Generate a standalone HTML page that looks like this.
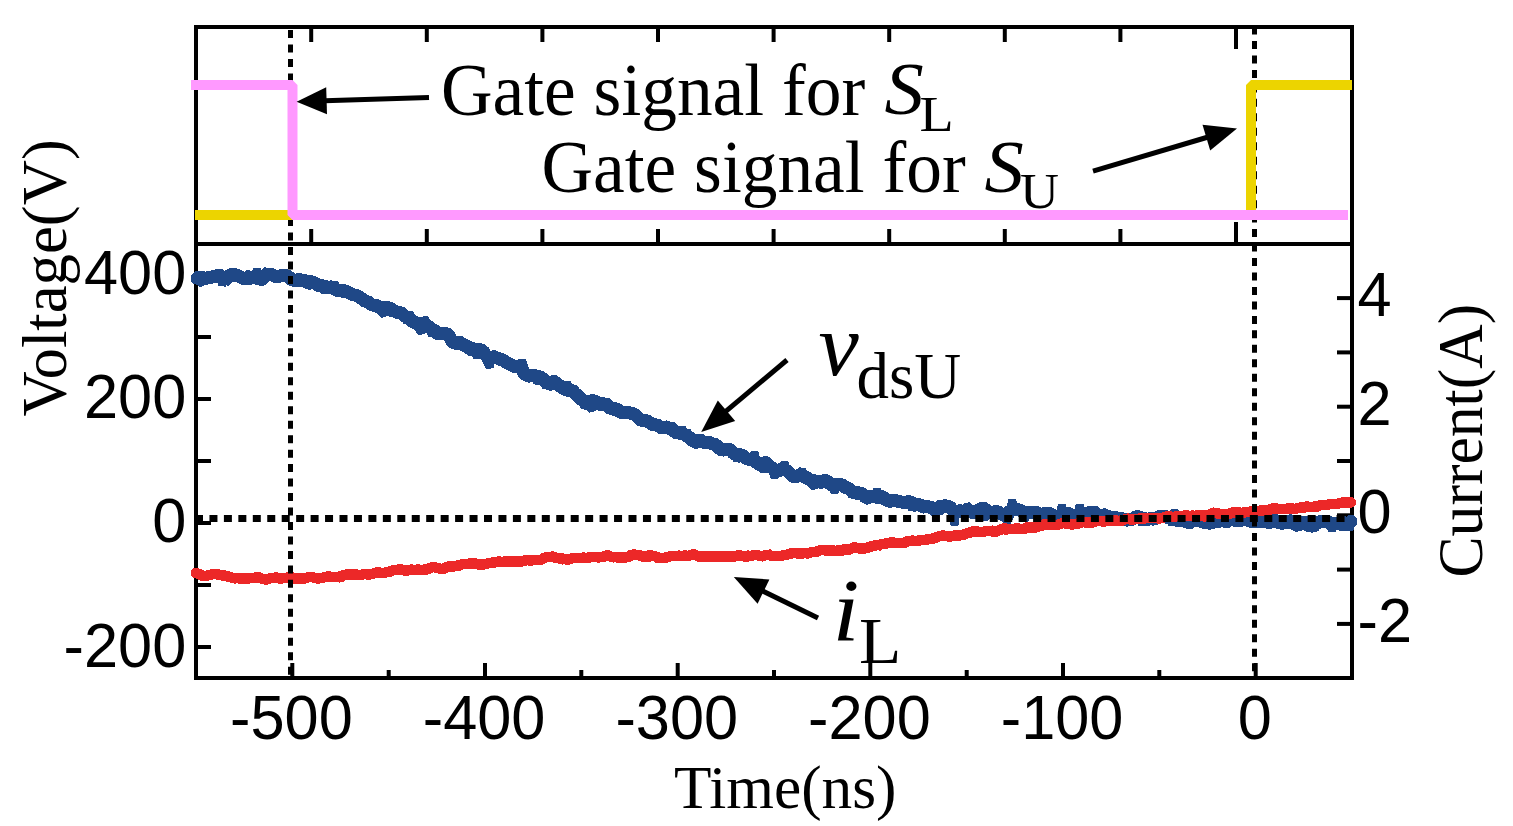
<!DOCTYPE html>
<html><head><meta charset="utf-8"><title>Gate signal waveform</title>
<style>html,body{margin:0;padding:0;background:#fff;overflow:hidden}svg{display:block}</style>
</head><body>
<svg width="1513" height="826" viewBox="0 0 1513 826">
<rect width="1513" height="826" fill="#fff"/>
<g stroke="#000" stroke-width="4" fill="none" stroke-linecap="butt">
<rect x="196" y="27" width="1156" height="651"/>
<line x1="196" y1="244" x2="1352" y2="244"/>
<line x1="311.2" y1="29" x2="311.2" y2="42"/>
<line x1="311.2" y1="242" x2="311.2" y2="229"/>
<line x1="426.8" y1="29" x2="426.8" y2="42"/>
<line x1="426.8" y1="242" x2="426.8" y2="229"/>
<line x1="542.4" y1="29" x2="542.4" y2="42"/>
<line x1="542.4" y1="242" x2="542.4" y2="229"/>
<line x1="658.0" y1="29" x2="658.0" y2="42"/>
<line x1="658.0" y1="242" x2="658.0" y2="229"/>
<line x1="773.6" y1="29" x2="773.6" y2="42"/>
<line x1="773.6" y1="242" x2="773.6" y2="229"/>
<line x1="889.2" y1="29" x2="889.2" y2="42"/>
<line x1="889.2" y1="242" x2="889.2" y2="229"/>
<line x1="1004.8" y1="29" x2="1004.8" y2="42"/>
<line x1="1004.8" y1="242" x2="1004.8" y2="229"/>
<line x1="1120.4" y1="29" x2="1120.4" y2="42"/>
<line x1="1120.4" y1="242" x2="1120.4" y2="229"/>
<line x1="1236.0" y1="29" x2="1236.0" y2="49"/>
<line x1="1236.0" y1="242" x2="1236.0" y2="222"/>
<line x1="292.3" y1="676" x2="292.3" y2="663"/>
<line x1="485.0" y1="676" x2="485.0" y2="663"/>
<line x1="677.7" y1="676" x2="677.7" y2="663"/>
<line x1="870.3" y1="676" x2="870.3" y2="663"/>
<line x1="1063.0" y1="676" x2="1063.0" y2="663"/>
<line x1="1255.7" y1="676" x2="1255.7" y2="663"/>
<line x1="388.7" y1="676" x2="388.7" y2="670"/>
<line x1="581.3" y1="676" x2="581.3" y2="670"/>
<line x1="774.0" y1="676" x2="774.0" y2="670"/>
<line x1="966.7" y1="676" x2="966.7" y2="670"/>
<line x1="1159.3" y1="676" x2="1159.3" y2="670"/>
<line x1="198" y1="647.0" x2="211" y2="647.0"/>
<line x1="198" y1="585.0" x2="211" y2="585.0"/>
<line x1="198" y1="523.0" x2="211" y2="523.0"/>
<line x1="198" y1="461.0" x2="211" y2="461.0"/>
<line x1="198" y1="399.0" x2="211" y2="399.0"/>
<line x1="198" y1="337.0" x2="211" y2="337.0"/>
<line x1="198" y1="275.0" x2="211" y2="275.0"/>
<line x1="1350" y1="623.9" x2="1337" y2="623.9"/>
<line x1="1350" y1="569.6" x2="1337" y2="569.6"/>
<line x1="1350" y1="515.3" x2="1337" y2="515.3"/>
<line x1="1350" y1="461.0" x2="1337" y2="461.0"/>
<line x1="1350" y1="406.7" x2="1337" y2="406.7"/>
<line x1="1350" y1="352.4" x2="1337" y2="352.4"/>
<line x1="1350" y1="298.1" x2="1337" y2="298.1"/>
</g>
<g shape-rendering="crispEdges">
<path d="M197.0 278.3 L200.0 275.5 L203.0 278.3 L206.0 278.4 L209.0 277.2 L212.0 277.1 L215.0 275.9 L218.0 276.2 L221.0 276.7 L224.0 281.0 L227.0 278.1 L230.0 275.2 L233.0 273.9 L236.0 274.9 L239.0 276.3 L242.0 277.9 L245.0 278.8 L248.0 278.0 L251.0 278.3 L254.0 276.9 L257.0 277.6 L260.0 280.2 L263.0 278.6 L266.0 275.2 L269.0 274.4 L272.0 274.5 L275.0 276.6 L278.0 276.6 L281.0 275.8 L284.0 275.9 L287.0 275.5 L290.0 278.0 L293.0 280.4 L296.0 280.4 L299.0 279.5 L302.0 280.3 L305.0 280.3 L308.0 283.6 L311.0 282.9 L314.0 282.5 L317.0 284.5 L320.0 286.0 L323.0 285.8 L326.0 286.8 L329.0 287.2 L332.0 286.8 L335.0 289.2 L338.0 290.8 L341.0 291.0 L344.0 291.2 L347.0 291.7 L350.0 293.5 L353.0 294.8 L356.0 295.1 L359.0 296.5 L362.0 298.9 L365.0 301.6 L368.0 301.3 L371.0 304.3 L374.0 305.2 L377.0 305.7 L380.0 308.3 L383.0 307.1 L386.0 307.9 L389.0 307.6 L392.0 309.4 L395.0 311.4 L398.0 312.6 L401.0 312.3 L404.0 315.7 L407.0 317.3 L410.0 318.4 L413.0 322.8 L416.0 322.7 L419.0 325.1 L422.0 325.0 L425.0 324.8 L428.0 326.1 L431.0 328.8 L434.0 330.0 L437.0 333.5 L440.0 334.0 L443.0 333.7 L446.0 332.9 L449.0 335.8 L452.0 341.4 L455.0 343.4 L458.0 343.1 L461.0 344.1 L464.0 344.3 L467.0 346.9 L470.0 348.8 L473.0 348.9 L476.0 349.1 L479.0 349.4 L482.0 350.1 L485.0 354.3 L488.0 358.0 L491.0 357.2 L494.0 356.9 L497.0 357.9 L500.0 359.3 L503.0 360.0 L506.0 362.1 L509.0 363.5 L512.0 365.4 L515.0 366.7 L518.0 365.8 L521.0 367.0 L524.0 373.5 L527.0 375.6 L530.0 376.3 L533.0 375.0 L536.0 376.2 L539.0 376.5 L542.0 378.0 L545.0 380.5 L548.0 385.1 L551.0 383.7 L554.0 381.4 L557.0 383.3 L560.0 386.1 L563.0 388.2 L566.0 389.6 L569.0 390.6 L572.0 389.7 L575.0 393.3 L578.0 395.8 L581.0 399.2 L584.0 400.9 L587.0 402.2 L590.0 401.0 L593.0 400.7 L596.0 401.4 L599.0 404.4 L602.0 404.4 L605.0 402.7 L608.0 405.8 L611.0 409.5 L614.0 408.6 L617.0 409.0 L620.0 412.0 L623.0 413.3 L626.0 412.1 L629.0 412.7 L632.0 413.5 L635.0 414.7 L638.0 417.7 L641.0 420.3 L644.0 420.5 L647.0 420.8 L650.0 422.8 L653.0 425.5 L656.0 424.1 L659.0 426.1 L662.0 428.5 L665.0 426.8 L668.0 427.4 L671.0 429.3 L674.0 431.1 L677.0 433.5 L680.0 432.6 L683.0 433.3 L686.0 435.7 L689.0 436.8 L692.0 440.7 L695.0 441.5 L698.0 442.1 L701.0 440.9 L704.0 442.3 L707.0 442.5 L710.0 442.6 L713.0 444.0 L716.0 444.6 L719.0 448.0 L722.0 450.4 L725.0 449.6 L728.0 449.0 L731.0 450.4 L734.0 454.1 L737.0 454.4 L740.0 454.6 L743.0 455.5 L746.0 458.6 L749.0 459.4 L752.0 459.7 L755.0 461.4 L758.0 463.7 L761.0 465.1 L764.0 467.2 L767.0 466.1 L770.0 466.7 L773.0 468.3 L776.0 471.2 L779.0 470.4 L782.0 468.9 L785.0 469.4 L788.0 471.3 L791.0 474.8 L794.0 477.2 L797.0 476.2 L800.0 474.8 L803.0 476.3 L806.0 477.5 L809.0 479.0 L812.0 481.3 L815.0 480.2 L818.0 482.2 L821.0 481.3 L824.0 480.7 L827.0 480.9 L830.0 484.0 L833.0 485.9 L836.0 484.7 L839.0 484.5 L842.0 484.9 L845.0 486.8 L848.0 488.2 L851.0 490.4 L854.0 492.9 L857.0 493.1 L860.0 492.9 L863.0 494.1 L866.0 498.2 L869.0 497.9 L872.0 494.8 L875.0 496.7 L878.0 497.5 L881.0 496.2 L884.0 497.9 L887.0 500.8 L890.0 501.2 L893.0 500.6 L896.0 500.7 L899.0 501.8 L902.0 502.0 L905.0 502.6 L908.0 502.6 L911.0 502.4 L914.0 503.7 L917.0 504.7 L920.0 504.6 L923.0 507.1 L926.0 506.8 L929.0 506.5 L932.0 508.4 L935.0 509.0 L938.0 510.0 L941.0 507.1 L944.0 505.5 L947.0 506.2 L950.0 506.8 L953.0 510.6 L956.0 511.4 L959.0 510.9 L962.0 510.8 L965.0 512.8 L968.0 510.9 L971.0 512.2 L974.0 512.1 L977.0 511.0 L980.0 509.0 L983.0 507.9 L986.0 509.7 L989.0 512.9 L992.0 512.8 L995.0 511.6 L998.0 511.9 L1001.0 513.8 L1004.0 515.6 L1007.0 513.7 L1010.0 511.2 L1013.0 509.9 L1016.0 510.0 L1019.0 509.9 L1022.0 511.1 L1025.0 512.9 L1028.0 512.9 L1031.0 512.2 L1034.0 512.2 L1037.0 512.5 L1040.0 514.7 L1043.0 513.8 L1046.0 513.9 L1049.0 513.6 L1052.0 514.2 L1055.0 518.4 L1058.0 519.1 L1061.0 516.5 L1064.0 515.2 L1067.0 513.3 L1070.0 514.0 L1073.0 516.8 L1076.0 515.8 L1079.0 515.0 L1082.0 513.8 L1085.0 513.6 L1088.0 512.9 L1091.0 511.9 L1094.0 513.8 L1097.0 517.2 L1100.0 516.2 L1103.0 514.2 L1106.0 515.6 L1109.0 516.6 L1112.0 517.5 L1115.0 517.6 L1118.0 518.1 L1121.0 518.2 L1124.0 519.6 L1127.0 520.1 L1130.0 519.6 L1133.0 519.0 L1136.0 516.6 L1139.0 516.7 L1142.0 518.2 L1145.0 518.7 L1148.0 519.2 L1151.0 518.6 L1154.0 519.4 L1157.0 517.6 L1160.0 516.1 L1163.0 516.1 L1166.0 517.0 L1169.0 518.2 L1172.0 518.7 L1175.0 518.8 L1178.0 521.2 L1181.0 520.2 L1184.0 520.9 L1187.0 521.9 L1190.0 520.8 L1193.0 519.6 L1196.0 520.2 L1199.0 519.7 L1202.0 521.6 L1205.0 522.7 L1208.0 522.7 L1211.0 523.6 L1214.0 521.2 L1217.0 522.6 L1220.0 520.4 L1223.0 518.3 L1226.0 520.4 L1229.0 519.5 L1232.0 519.7 L1235.0 520.3 L1238.0 520.7 L1241.0 520.2 L1244.0 519.3 L1247.0 519.9 L1250.0 520.9 L1253.0 522.2 L1256.0 520.6 L1259.0 521.4 L1262.0 521.5 L1265.0 520.9 L1268.0 520.8 L1271.0 520.0 L1274.0 520.2 L1277.0 521.1 L1280.0 523.5 L1283.0 523.0 L1286.0 522.5 L1289.0 520.3 L1292.0 521.4 L1295.0 524.5 L1298.0 525.5 L1301.0 523.9 L1304.0 522.2 L1307.0 525.4 L1310.0 525.3 L1313.0 524.0 L1316.0 524.1 L1319.0 521.8 L1322.0 521.6 L1325.0 521.1 L1328.0 522.2 L1331.0 523.0 L1334.0 523.8 L1337.0 523.1 L1340.0 523.6 L1343.0 525.0 L1346.0 524.2 L1349.0 523.0 L1351.0 521.3" fill="none" stroke="#1f4887" stroke-width="13" stroke-linejoin="bevel" stroke-linecap="round"/>
<path d="M197.0 277.5 L199.5 282.5 L202.0 282.5 L204.5 277.5 L207.0 277.5 L209.5 275.0 L212.0 280.0 L214.5 277.5 L217.0 280.0 L219.5 270.0 L222.0 285.0 L224.5 280.0 L227.0 280.0 L229.5 275.0 L232.0 272.5 L234.5 275.0 L237.0 280.0 L239.5 277.5 L242.0 277.5 L244.5 280.0 L247.0 275.0 L249.5 272.5 L252.0 280.0 L254.5 275.0 L257.0 270.0 L259.5 275.0 L262.0 277.5 L264.5 272.5 L267.0 270.0 L269.5 275.0 L272.0 277.5 L274.5 275.0 L277.0 275.0 L279.5 277.5 L282.0 277.5 L284.5 275.0 L287.0 277.5 L289.5 282.5 L292.0 280.0 L294.5 277.5 L297.0 280.0 L299.5 280.0 L302.0 285.0 L304.5 277.5 L307.0 280.0 L309.5 280.0 L312.0 277.5 L314.5 285.0 L317.0 287.5 L319.5 282.5 L322.0 290.0 L324.5 290.0 L327.0 290.0 L329.5 287.5 L332.0 290.0 L334.5 282.5 L337.0 292.5 L339.5 292.5 L342.0 285.0 L344.5 292.5 L347.0 290.0 L349.5 297.5 L352.0 292.5 L354.5 295.0 L357.0 297.5 L359.5 295.0 L362.0 302.5 L364.5 300.0 L367.0 305.0 L369.5 302.5 L372.0 307.5 L374.5 307.5 L377.0 305.0 L379.5 310.0 L382.0 312.5 L384.5 315.0 L387.0 302.5 L389.5 312.5 L392.0 312.5 L394.5 310.0 L397.0 307.5 L399.5 317.5 L402.0 310.0 L404.5 317.5 L407.0 322.5 L409.5 312.5 L412.0 320.0 L414.5 317.5 L417.0 325.0 L419.5 330.0 L422.0 332.5 L424.5 317.5 L427.0 322.5 L429.5 330.0 L432.0 335.0 L434.5 332.5 L437.0 330.0 L439.5 335.0 L442.0 332.5 L444.5 332.5 L447.0 330.0 L449.5 337.5 L452.0 342.5 L454.5 342.5 L457.0 342.5 L459.5 337.5 L462.0 342.5 L464.5 350.0 L467.0 347.5 L469.5 342.5 L472.0 355.0 L474.5 350.0 L477.0 357.5 L479.5 350.0 L482.0 350.0 L484.5 347.5 L487.0 362.5 L489.5 367.5 L492.0 352.5 L494.5 355.0 L497.0 360.0 L499.5 355.0 L502.0 360.0 L504.5 360.0 L507.0 362.5 L509.5 367.5 L512.0 365.0 L514.5 370.0 L517.0 365.0 L519.5 367.5 L522.0 360.0 L524.5 367.5 L527.0 377.5 L529.5 372.5 L532.0 377.5 L534.5 377.5 L537.0 382.5 L539.5 380.0 L542.0 382.5 L544.5 380.0 L547.0 382.5 L549.5 382.5 L552.0 380.0 L554.5 377.5 L557.0 382.5 L559.5 385.0 L562.0 387.5 L564.5 387.5 L567.0 382.5 L569.5 390.0 L572.0 390.0 L574.5 397.5 L577.0 397.5 L579.5 395.0 L582.0 397.5 L584.5 407.5 L587.0 405.0 L589.5 407.5 L592.0 410.0 L594.5 397.5 L597.0 405.0 L599.5 405.0 L602.0 405.0 L604.5 405.0 L607.0 405.0 L609.5 407.5 L612.0 405.0 L614.5 407.5 L617.0 407.5 L619.5 412.5 L622.0 410.0 L624.5 415.0 L627.0 415.0 L629.5 415.0 L632.0 415.0 L634.5 415.0 L637.0 415.0 L639.5 417.5 L642.0 417.5 L644.5 422.5 L647.0 420.0 L649.5 425.0 L652.0 420.0 L654.5 427.5 L657.0 422.5 L659.5 425.0 L662.0 427.5 L664.5 425.0 L667.0 427.5 L669.5 427.5 L672.0 425.0 L674.5 427.5 L677.0 437.5 L679.5 432.5 L682.0 427.5 L684.5 435.0 L687.0 430.0 L689.5 442.5 L692.0 435.0 L694.5 445.0 L697.0 445.0 L699.5 435.0 L702.0 442.5 L704.5 445.0 L707.0 445.0 L709.5 442.5 L712.0 447.5 L714.5 445.0 L717.0 447.5 L719.5 447.5 L722.0 452.5 L724.5 447.5 L727.0 452.5 L729.5 447.5 L732.0 447.5 L734.5 455.0 L737.0 460.0 L739.5 457.5 L742.0 452.5 L744.5 460.0 L747.0 457.5 L749.5 457.5 L752.0 460.0 L754.5 452.5 L757.0 462.5 L759.5 460.0 L762.0 462.5 L764.5 460.0 L767.0 460.0 L769.5 462.5 L772.0 470.0 L774.5 477.5 L777.0 472.5 L779.5 475.0 L782.0 467.5 L784.5 462.5 L787.0 470.0 L789.5 475.0 L792.0 475.0 L794.5 477.5 L797.0 477.5 L799.5 472.5 L802.0 470.0 L804.5 475.0 L807.0 477.5 L809.5 480.0 L812.0 485.0 L814.5 487.5 L817.0 480.0 L819.5 485.0 L822.0 485.0 L824.5 482.5 L827.0 485.0 L829.5 482.5 L832.0 487.5 L834.5 492.5 L837.0 487.5 L839.5 482.5 L842.0 487.5 L844.5 490.0 L847.0 490.0 L849.5 487.5 L852.0 497.5 L854.5 487.5 L857.0 495.0 L859.5 492.5 L862.0 490.0 L864.5 500.0 L867.0 500.0 L869.5 492.5 L872.0 497.5 L874.5 495.0 L877.0 490.0 L879.5 495.0 L882.0 497.5 L884.5 500.0 L887.0 502.5 L889.5 502.5 L892.0 502.5 L894.5 500.0 L897.0 505.0 L899.5 502.5 L902.0 502.5 L904.5 505.0 L907.0 497.5 L909.5 500.0 L912.0 510.0 L914.5 505.0 L917.0 502.5 L919.5 505.0 L922.0 505.0 L924.5 507.5 L927.0 505.0 L929.5 507.5 L932.0 502.5 L934.5 515.0 L937.0 507.5 L939.5 502.5 L942.0 505.0 L944.5 505.0 L947.0 507.5 L949.5 502.5 L952.0 510.0 L954.5 525.0 L957.0 507.5 L959.5 512.5 L962.0 510.0 L964.5 512.5 L967.0 505.0 L969.5 507.5 L972.0 512.5 L974.5 512.5 L977.0 517.5 L979.5 507.5 L982.0 510.0 L984.5 520.0 L987.0 507.5 L989.5 510.0 L992.0 512.5 L994.5 510.0 L997.0 515.0 L999.5 512.5 L1002.0 512.5 L1004.5 515.0 L1007.0 522.5 L1009.5 517.5 L1012.0 500.0 L1014.5 507.5 L1017.0 505.0 L1019.5 512.5 L1022.0 510.0 L1024.5 520.0 L1027.0 515.0 L1029.5 515.0 L1032.0 512.5 L1034.5 512.5 L1037.0 515.0 L1039.5 517.5 L1042.0 517.5 L1044.5 512.5 L1047.0 517.5 L1049.5 515.0 L1052.0 515.0 L1054.5 515.0 L1057.0 517.5 L1059.5 515.0 L1062.0 505.0 L1064.5 517.5 L1067.0 515.0 L1069.5 512.5 L1072.0 520.0 L1074.5 517.5 L1077.0 517.5 L1079.5 505.0 L1082.0 512.5 L1084.5 515.0 L1087.0 520.0 L1089.5 520.0 L1092.0 517.5 L1094.5 510.0 L1097.0 510.0 L1099.5 520.0 L1102.0 515.0 L1104.5 517.5 L1107.0 515.0 L1109.5 517.5 L1112.0 512.5 L1114.5 520.0 L1117.0 515.0 L1119.5 520.0 L1122.0 520.0 L1124.5 517.5 L1127.0 520.0 L1129.5 520.0 L1132.0 522.5 L1134.5 520.0 L1137.0 515.0 L1139.5 515.0 L1142.0 525.0 L1144.5 517.5 L1147.0 522.5 L1149.5 520.0 L1152.0 517.5 L1154.5 517.5 L1157.0 517.5 L1159.5 517.5 L1162.0 517.5 L1164.5 512.5 L1167.0 515.0 L1169.5 517.5 L1172.0 525.0 L1174.5 510.0 L1177.0 522.5 L1179.5 520.0 L1182.0 522.5 L1184.5 517.5 L1187.0 522.5 L1189.5 527.5 L1192.0 520.0 L1194.5 520.0 L1197.0 522.5 L1199.5 517.5 L1202.0 522.5 L1204.5 522.5 L1207.0 520.0 L1209.5 525.0 L1212.0 522.5 L1214.5 525.0 L1217.0 522.5 L1219.5 520.0 L1222.0 525.0 L1224.5 522.5 L1227.0 525.0 L1229.5 522.5 L1232.0 520.0 L1234.5 517.5 L1237.0 520.0 L1239.5 525.0 L1242.0 520.0 L1244.5 512.5 L1247.0 520.0 L1249.5 515.0 L1252.0 522.5 L1254.5 517.5 L1257.0 515.0 L1259.5 520.0 L1262.0 522.5 L1264.5 515.0 L1267.0 522.5 L1269.5 527.5 L1272.0 515.0 L1274.5 527.5 L1277.0 517.5 L1279.5 520.0 L1282.0 522.5 L1284.5 517.5 L1287.0 527.5 L1289.5 522.5 L1292.0 520.0 L1294.5 522.5 L1297.0 520.0 L1299.5 525.0 L1302.0 527.5 L1304.5 517.5 L1307.0 522.5 L1309.5 525.0 L1312.0 527.5 L1314.5 530.0 L1317.0 522.5 L1319.5 517.5 L1322.0 522.5 L1324.5 520.0 L1327.0 520.0 L1329.5 525.0 L1332.0 530.0 L1334.5 525.0 L1337.0 522.5 L1339.5 525.0 L1342.0 517.5 L1344.5 525.0 L1347.0 520.0 L1349.5 530.0 L1351.0 522.5" fill="none" stroke="#1f4887" stroke-width="8" stroke-linejoin="bevel" stroke-linecap="round"/>
<path d="M196.0 573.0 L199.0 573.9 L202.0 575.7 L205.0 576.1 L208.0 575.3 L211.0 574.8 L214.0 573.8 L217.0 574.4 L220.0 574.8 L223.0 575.6 L226.0 575.7 L229.0 576.9 L232.0 577.6 L235.0 578.4 L238.0 578.0 L241.0 579.0 L244.0 578.1 L247.0 578.9 L250.0 578.1 L253.0 578.0 L256.0 577.5 L259.0 577.4 L262.0 578.8 L265.0 579.3 L268.0 579.3 L271.0 577.9 L274.0 577.9 L277.0 577.4 L280.0 578.7 L283.0 578.0 L286.0 577.8 L289.0 577.5 L292.0 577.4 L295.0 578.6 L298.0 578.3 L301.0 578.5 L304.0 578.7 L307.0 577.6 L310.0 577.0 L313.0 577.4 L316.0 578.3 L319.0 578.4 L322.0 577.9 L325.0 577.0 L328.0 576.5 L331.0 576.8 L334.0 577.1 L337.0 576.8 L340.0 576.7 L343.0 575.4 L346.0 574.7 L349.0 574.7 L352.0 574.6 L355.0 574.6 L358.0 574.8 L361.0 575.2 L364.0 574.1 L367.0 574.3 L370.0 574.3 L373.0 573.8 L376.0 572.7 L379.0 572.5 L382.0 573.1 L385.0 572.6 L388.0 571.8 L391.0 571.3 L394.0 569.9 L397.0 569.8 L400.0 569.2 L403.0 569.9 L406.0 571.0 L409.0 570.0 L412.0 569.6 L415.0 570.3 L418.0 569.5 L421.0 570.2 L424.0 569.6 L427.0 569.6 L430.0 567.9 L433.0 566.9 L436.0 567.6 L439.0 568.4 L442.0 569.0 L445.0 568.3 L448.0 566.0 L451.0 567.1 L454.0 566.2 L457.0 565.6 L460.0 564.8 L463.0 564.2 L466.0 564.2 L469.0 563.7 L472.0 563.3 L475.0 563.3 L478.0 564.5 L481.0 564.3 L484.0 564.4 L487.0 563.8 L490.0 562.8 L493.0 562.7 L496.0 562.2 L499.0 561.5 L502.0 561.9 L505.0 561.5 L508.0 561.2 L511.0 561.5 L514.0 561.4 L517.0 561.9 L520.0 561.4 L523.0 561.3 L526.0 560.1 L529.0 560.3 L532.0 560.4 L535.0 559.9 L538.0 559.9 L541.0 559.7 L544.0 558.0 L547.0 556.9 L550.0 557.2 L553.0 556.3 L556.0 557.9 L559.0 558.2 L562.0 558.5 L565.0 559.2 L568.0 559.5 L571.0 558.6 L574.0 557.9 L577.0 557.8 L580.0 558.2 L583.0 557.7 L586.0 557.8 L589.0 557.7 L592.0 556.8 L595.0 556.9 L598.0 557.4 L601.0 557.2 L604.0 556.5 L607.0 555.2 L610.0 556.2 L613.0 557.3 L616.0 557.1 L619.0 557.7 L622.0 557.3 L625.0 557.5 L628.0 557.0 L631.0 555.5 L634.0 554.5 L637.0 554.9 L640.0 555.5 L643.0 556.8 L646.0 556.7 L649.0 555.4 L652.0 555.7 L655.0 556.2 L658.0 557.6 L661.0 557.9 L664.0 557.8 L667.0 557.4 L670.0 556.4 L673.0 555.8 L676.0 555.9 L679.0 555.7 L682.0 556.0 L685.0 555.6 L688.0 555.9 L691.0 555.0 L694.0 554.1 L697.0 555.9 L700.0 557.0 L703.0 556.6 L706.0 556.7 L709.0 556.3 L712.0 556.5 L715.0 556.7 L718.0 556.4 L721.0 556.3 L724.0 556.6 L727.0 556.7 L730.0 556.3 L733.0 556.7 L736.0 556.0 L739.0 555.1 L742.0 555.8 L745.0 556.4 L748.0 555.6 L751.0 556.1 L754.0 554.8 L757.0 555.0 L760.0 556.1 L763.0 556.3 L766.0 555.0 L769.0 555.0 L772.0 555.9 L775.0 556.1 L778.0 556.1 L781.0 555.9 L784.0 554.9 L787.0 554.7 L790.0 553.8 L793.0 553.0 L796.0 553.2 L799.0 553.6 L802.0 553.5 L805.0 552.6 L808.0 553.8 L811.0 552.2 L814.0 551.9 L817.0 551.6 L820.0 550.3 L823.0 549.7 L826.0 550.5 L829.0 550.8 L832.0 550.2 L835.0 551.1 L838.0 550.4 L841.0 550.6 L844.0 549.3 L847.0 549.5 L850.0 549.4 L853.0 547.6 L856.0 547.6 L859.0 548.4 L862.0 548.6 L865.0 548.5 L868.0 547.5 L871.0 546.5 L874.0 545.7 L877.0 545.1 L880.0 544.6 L883.0 543.9 L886.0 543.6 L889.0 542.8 L892.0 542.4 L895.0 542.9 L898.0 543.1 L901.0 543.0 L904.0 542.9 L907.0 541.4 L910.0 541.0 L913.0 540.6 L916.0 541.2 L919.0 540.4 L922.0 540.2 L925.0 539.8 L928.0 539.3 L931.0 538.8 L934.0 538.4 L937.0 536.9 L940.0 536.0 L943.0 535.6 L946.0 535.9 L949.0 536.5 L952.0 536.3 L955.0 535.2 L958.0 535.9 L961.0 535.2 L964.0 534.6 L967.0 533.2 L970.0 532.5 L973.0 531.5 L976.0 531.3 L979.0 532.0 L982.0 532.2 L985.0 531.4 L988.0 531.0 L991.0 531.0 L994.0 532.1 L997.0 530.9 L1000.0 530.0 L1003.0 528.6 L1006.0 528.6 L1009.0 529.2 L1012.0 529.0 L1015.0 528.7 L1018.0 528.3 L1021.0 529.1 L1024.0 528.9 L1027.0 527.3 L1030.0 527.5 L1033.0 527.3 L1036.0 527.5 L1039.0 526.4 L1042.0 525.8 L1045.0 523.9 L1048.0 524.0 L1051.0 525.2 L1054.0 525.2 L1057.0 525.1 L1060.0 523.9 L1063.0 523.1 L1066.0 523.6 L1069.0 523.9 L1072.0 524.6 L1075.0 524.0 L1078.0 523.6 L1081.0 522.4 L1084.0 522.2 L1087.0 522.5 L1090.0 522.2 L1093.0 522.7 L1096.0 520.7 L1099.0 520.8 L1102.0 521.4 L1105.0 521.3 L1108.0 520.8 L1111.0 520.3 L1114.0 520.8 L1117.0 521.1 L1120.0 520.6 L1123.0 519.9 L1126.0 519.0 L1129.0 518.6 L1132.0 520.1 L1135.0 518.9 L1138.0 518.9 L1141.0 518.4 L1144.0 518.4 L1147.0 518.1 L1150.0 518.2 L1153.0 517.9 L1156.0 518.0 L1159.0 518.5 L1162.0 517.9 L1165.0 517.0 L1168.0 516.3 L1171.0 516.7 L1174.0 517.2 L1177.0 515.9 L1180.0 516.0 L1183.0 515.8 L1186.0 515.3 L1189.0 515.9 L1192.0 515.7 L1195.0 515.8 L1198.0 515.2 L1201.0 515.3 L1204.0 515.7 L1207.0 515.8 L1210.0 514.8 L1213.0 512.7 L1216.0 512.9 L1219.0 513.8 L1222.0 514.1 L1225.0 514.3 L1228.0 514.6 L1231.0 513.0 L1234.0 511.9 L1237.0 511.8 L1240.0 512.9 L1243.0 512.7 L1246.0 512.0 L1249.0 512.1 L1252.0 511.2 L1255.0 511.7 L1258.0 511.2 L1261.0 510.4 L1264.0 510.8 L1267.0 510.3 L1270.0 509.5 L1273.0 508.2 L1276.0 508.5 L1279.0 509.0 L1282.0 509.1 L1285.0 509.0 L1288.0 508.5 L1291.0 508.1 L1294.0 509.7 L1297.0 508.4 L1300.0 507.6 L1303.0 508.0 L1306.0 506.4 L1309.0 506.8 L1312.0 506.9 L1315.0 506.5 L1318.0 506.4 L1321.0 504.8 L1324.0 505.1 L1327.0 505.2 L1330.0 504.1 L1333.0 504.1 L1336.0 504.1 L1339.0 503.4 L1342.0 502.7 L1345.0 502.4 L1348.0 502.9 L1351.0 502.4" fill="none" stroke="#ec2828" stroke-width="10.5" stroke-linejoin="bevel" stroke-linecap="round"/>
<path d="M196.0 572.0 L198.5 572.0 L201.0 574.0 L203.5 576.0 L206.0 578.0 L208.5 576.0 L211.0 574.0 L213.5 574.0 L216.0 576.0 L218.5 576.0 L221.0 576.0 L223.5 574.0 L226.0 574.0 L228.5 578.0 L231.0 578.0 L233.5 576.0 L236.0 578.0 L238.5 576.0 L241.0 578.0 L243.5 578.0 L246.0 578.0 L248.5 580.0 L251.0 578.0 L253.5 578.0 L256.0 578.0 L258.5 578.0 L261.0 576.0 L263.5 578.0 L266.0 578.0 L268.5 578.0 L271.0 576.0 L273.5 578.0 L276.0 578.0 L278.5 578.0 L281.0 578.0 L283.5 578.0 L286.0 576.0 L288.5 576.0 L291.0 578.0 L293.5 576.0 L296.0 580.0 L298.5 580.0 L301.0 576.0 L303.5 578.0 L306.0 576.0 L308.5 578.0 L311.0 578.0 L313.5 576.0 L316.0 578.0 L318.5 578.0 L321.0 580.0 L323.5 576.0 L326.0 578.0 L328.5 576.0 L331.0 576.0 L333.5 576.0 L336.0 578.0 L338.5 578.0 L341.0 580.0 L343.5 576.0 L346.0 576.0 L348.5 576.0 L351.0 574.0 L353.5 574.0 L356.0 576.0 L358.5 574.0 L361.0 576.0 L363.5 574.0 L366.0 574.0 L368.5 574.0 L371.0 574.0 L373.5 574.0 L376.0 572.0 L378.5 572.0 L381.0 574.0 L383.5 572.0 L386.0 570.0 L388.5 570.0 L391.0 572.0 L393.5 570.0 L396.0 568.0 L398.5 568.0 L401.0 570.0 L403.5 568.0 L406.0 568.0 L408.5 570.0 L411.0 568.0 L413.5 570.0 L416.0 570.0 L418.5 570.0 L421.0 570.0 L423.5 572.0 L426.0 570.0 L428.5 568.0 L431.0 566.0 L433.5 568.0 L436.0 568.0 L438.5 568.0 L441.0 568.0 L443.5 568.0 L446.0 566.0 L448.5 566.0 L451.0 566.0 L453.5 566.0 L456.0 566.0 L458.5 568.0 L461.0 566.0 L463.5 562.0 L466.0 566.0 L468.5 564.0 L471.0 562.0 L473.5 564.0 L476.0 564.0 L478.5 564.0 L481.0 564.0 L483.5 564.0 L486.0 564.0 L488.5 564.0 L491.0 562.0 L493.5 564.0 L496.0 564.0 L498.5 560.0 L501.0 562.0 L503.5 562.0 L506.0 560.0 L508.5 560.0 L511.0 562.0 L513.5 562.0 L516.0 560.0 L518.5 562.0 L521.0 562.0 L523.5 562.0 L526.0 562.0 L528.5 560.0 L531.0 560.0 L533.5 562.0 L536.0 560.0 L538.5 560.0 L541.0 560.0 L543.5 558.0 L546.0 556.0 L548.5 558.0 L551.0 558.0 L553.5 558.0 L556.0 558.0 L558.5 556.0 L561.0 562.0 L563.5 560.0 L566.0 558.0 L568.5 560.0 L571.0 558.0 L573.5 556.0 L576.0 556.0 L578.5 556.0 L581.0 560.0 L583.5 556.0 L586.0 558.0 L588.5 558.0 L591.0 556.0 L593.5 556.0 L596.0 558.0 L598.5 558.0 L601.0 558.0 L603.5 556.0 L606.0 554.0 L608.5 556.0 L611.0 556.0 L613.5 556.0 L616.0 556.0 L618.5 560.0 L621.0 558.0 L623.5 556.0 L626.0 558.0 L628.5 558.0 L631.0 552.0 L633.5 554.0 L636.0 554.0 L638.5 556.0 L641.0 556.0 L643.5 556.0 L646.0 556.0 L648.5 558.0 L651.0 558.0 L653.5 556.0 L656.0 556.0 L658.5 562.0 L661.0 556.0 L663.5 558.0 L666.0 558.0 L668.5 558.0 L671.0 558.0 L673.5 556.0 L676.0 554.0 L678.5 556.0 L681.0 556.0 L683.5 558.0 L686.0 556.0 L688.5 554.0 L691.0 554.0 L693.5 556.0 L696.0 554.0 L698.5 554.0 L701.0 556.0 L703.5 556.0 L706.0 558.0 L708.5 556.0 L711.0 558.0 L713.5 558.0 L716.0 556.0 L718.5 556.0 L721.0 558.0 L723.5 558.0 L726.0 558.0 L728.5 558.0 L731.0 558.0 L733.5 556.0 L736.0 556.0 L738.5 554.0 L741.0 556.0 L743.5 556.0 L746.0 560.0 L748.5 556.0 L751.0 558.0 L753.5 556.0 L756.0 554.0 L758.5 558.0 L761.0 554.0 L763.5 556.0 L766.0 556.0 L768.5 552.0 L771.0 554.0 L773.5 558.0 L776.0 556.0 L778.5 554.0 L781.0 556.0 L783.5 554.0 L786.0 556.0 L788.5 554.0 L791.0 552.0 L793.5 552.0 L796.0 554.0 L798.5 556.0 L801.0 554.0 L803.5 554.0 L806.0 554.0 L808.5 552.0 L811.0 552.0 L813.5 552.0 L816.0 552.0 L818.5 550.0 L821.0 548.0 L823.5 550.0 L826.0 550.0 L828.5 550.0 L831.0 550.0 L833.5 550.0 L836.0 552.0 L838.5 552.0 L841.0 552.0 L843.5 552.0 L846.0 550.0 L848.5 550.0 L851.0 548.0 L853.5 548.0 L856.0 546.0 L858.5 548.0 L861.0 550.0 L863.5 548.0 L866.0 546.0 L868.5 550.0 L871.0 546.0 L873.5 546.0 L876.0 544.0 L878.5 548.0 L881.0 546.0 L883.5 544.0 L886.0 542.0 L888.5 544.0 L891.0 542.0 L893.5 542.0 L896.0 542.0 L898.5 544.0 L901.0 544.0 L903.5 542.0 L906.0 542.0 L908.5 538.0 L911.0 542.0 L913.5 540.0 L916.0 540.0 L918.5 540.0 L921.0 538.0 L923.5 540.0 L926.0 538.0 L928.5 538.0 L931.0 538.0 L933.5 538.0 L936.0 538.0 L938.5 536.0 L941.0 534.0 L943.5 536.0 L946.0 534.0 L948.5 538.0 L951.0 536.0 L953.5 534.0 L956.0 534.0 L958.5 536.0 L961.0 536.0 L963.5 534.0 L966.0 534.0 L968.5 536.0 L971.0 532.0 L973.5 530.0 L976.0 530.0 L978.5 530.0 L981.0 532.0 L983.5 530.0 L986.0 530.0 L988.5 532.0 L991.0 528.0 L993.5 530.0 L996.0 534.0 L998.5 532.0 L1001.0 530.0 L1003.5 530.0 L1006.0 532.0 L1008.5 530.0 L1011.0 530.0 L1013.5 528.0 L1016.0 528.0 L1018.5 528.0 L1021.0 528.0 L1023.5 528.0 L1026.0 528.0 L1028.5 526.0 L1031.0 528.0 L1033.5 526.0 L1036.0 528.0 L1038.5 528.0 L1041.0 526.0 L1043.5 526.0 L1046.0 526.0 L1048.5 526.0 L1051.0 526.0 L1053.5 524.0 L1056.0 526.0 L1058.5 524.0 L1061.0 522.0 L1063.5 522.0 L1066.0 522.0 L1068.5 522.0 L1071.0 524.0 L1073.5 524.0 L1076.0 522.0 L1078.5 522.0 L1081.0 522.0 L1083.5 522.0 L1086.0 522.0 L1088.5 522.0 L1091.0 522.0 L1093.5 522.0 L1096.0 522.0 L1098.5 522.0 L1101.0 520.0 L1103.5 520.0 L1106.0 522.0 L1108.5 520.0 L1111.0 520.0 L1113.5 518.0 L1116.0 518.0 L1118.5 522.0 L1121.0 522.0 L1123.5 522.0 L1126.0 520.0 L1128.5 520.0 L1131.0 520.0 L1133.5 518.0 L1136.0 520.0 L1138.5 518.0 L1141.0 520.0 L1143.5 518.0 L1146.0 518.0 L1148.5 520.0 L1151.0 518.0 L1153.5 518.0 L1156.0 516.0 L1158.5 518.0 L1161.0 520.0 L1163.5 518.0 L1166.0 518.0 L1168.5 518.0 L1171.0 518.0 L1173.5 518.0 L1176.0 516.0 L1178.5 516.0 L1181.0 518.0 L1183.5 514.0 L1186.0 516.0 L1188.5 514.0 L1191.0 516.0 L1193.5 514.0 L1196.0 518.0 L1198.5 514.0 L1201.0 514.0 L1203.5 518.0 L1206.0 518.0 L1208.5 516.0 L1211.0 514.0 L1213.5 512.0 L1216.0 512.0 L1218.5 514.0 L1221.0 516.0 L1223.5 516.0 L1226.0 514.0 L1228.5 514.0 L1231.0 512.0 L1233.5 514.0 L1236.0 514.0 L1238.5 512.0 L1241.0 512.0 L1243.5 514.0 L1246.0 514.0 L1248.5 512.0 L1251.0 510.0 L1253.5 510.0 L1256.0 510.0 L1258.5 512.0 L1261.0 508.0 L1263.5 512.0 L1266.0 512.0 L1268.5 510.0 L1271.0 508.0 L1273.5 508.0 L1276.0 510.0 L1278.5 506.0 L1281.0 510.0 L1283.5 510.0 L1286.0 508.0 L1288.5 510.0 L1291.0 508.0 L1293.5 510.0 L1296.0 510.0 L1298.5 508.0 L1301.0 510.0 L1303.5 508.0 L1306.0 510.0 L1308.5 506.0 L1311.0 506.0 L1313.5 508.0 L1316.0 508.0 L1318.5 506.0 L1321.0 506.0 L1323.5 504.0 L1326.0 506.0 L1328.5 504.0 L1331.0 506.0 L1333.5 504.0 L1336.0 504.0 L1338.5 504.0 L1341.0 506.0 L1343.5 502.0 L1346.0 502.0 L1348.5 504.0 L1351.0 502.0" fill="none" stroke="#ec2828" stroke-width="7" stroke-linejoin="bevel" stroke-linecap="round"/>
</g>
<g stroke="#000" fill="none">
<line x1="290.5" y1="30" x2="290.5" y2="676" stroke-width="5" stroke-dasharray="8 6.47"/>
<line x1="1254.5" y1="26.5" x2="1254.5" y2="676" stroke-width="5" stroke-dasharray="8 6.47"/>
<line x1="195" y1="518.5" x2="1350" y2="518.5" stroke-width="7" stroke-dasharray="8 6.45"/>
</g>
<polyline points="195,215 1251,215 1251,85 1352,85" fill="none" stroke="#ecd400" stroke-width="10" stroke-linejoin="bevel"/>
<polyline points="191,85 292.5,85 292.5,215 1348,215" fill="none" stroke="#ff99ff" stroke-width="10" stroke-linejoin="bevel"/>
<line x1="429.0" y1="97.5" x2="324.6" y2="100.8" stroke="#000" stroke-width="5" stroke-linecap="butt"/>
<polygon points="296.6,101.7 326.2,87.3 327.0,114.2" fill="#000"/>
<line x1="1093.0" y1="171.2" x2="1208.2" y2="137.0" stroke="#000" stroke-width="5" stroke-linecap="butt"/>
<polygon points="1237.0,128.5 1210.2,150.5 1202.5,124.7" fill="#000"/>
<line x1="787.0" y1="360.0" x2="724.9" y2="412.1" stroke="#000" stroke-width="5" stroke-linecap="butt"/>
<polygon points="701.2,432.0 717.8,400.4 735.2,421.1" fill="#000"/>
<line x1="818.0" y1="618.0" x2="761.7" y2="590.6" stroke="#000" stroke-width="5" stroke-linecap="butt"/>
<polygon points="733.8,577.1 769.4,579.4 757.6,603.7" fill="#000"/>
<text transform="translate(441.00,114.50) scale(1,1.045)" style="font-family:'Liberation Serif',serif;font-size:71.4px">Gate signal for</text>
<text transform="translate(884.50,114.30) scale(1.1,1.045)" style="font-family:'Liberation Serif',serif;font-size:71.4px;font-style:italic">S</text>
<text transform="translate(919.50,131.00) scale(1.12,1)" style="font-family:'Liberation Serif',serif;font-size:50px">L</text>
<text transform="translate(541.50,191.80) scale(1,1.045)" style="font-family:'Liberation Serif',serif;font-size:71.4px">Gate signal for</text>
<text transform="translate(984.50,191.80) scale(1.1,1.045)" style="font-family:'Liberation Serif',serif;font-size:71.4px;font-style:italic">S</text>
<text transform="translate(1020.00,207.50) scale(1.08,1)" style="font-family:'Liberation Serif',serif;font-size:50px">U</text>
<text transform="translate(818.50,375.00) scale(1.03,1)" style="font-family:'Liberation Serif',serif;font-size:88px;font-style:italic">v</text>
<text transform="translate(856.50,397.70)" style="font-family:'Liberation Serif',serif;font-size:65px">dsU</text>
<text transform="translate(832.50,640.30) scale(1.1,1)" style="font-family:'Liberation Serif',serif;font-size:88px;font-style:italic">i</text>
<text transform="translate(859.00,662.80) scale(1.05,1)" style="font-family:'Liberation Serif',serif;font-size:66px">L</text>
<text transform="translate(186.30,294.20) scale(1,1.035)" text-anchor="end" style="font-family:'Liberation Sans',sans-serif;font-size:61.3px">400</text>
<text transform="translate(186.30,417.60) scale(1,1.035)" text-anchor="end" style="font-family:'Liberation Sans',sans-serif;font-size:61.3px">200</text>
<text transform="translate(186.30,542.30) scale(1,1.035)" text-anchor="end" style="font-family:'Liberation Sans',sans-serif;font-size:61.3px">0</text>
<text transform="translate(186.30,666.90) scale(1,1.035)" text-anchor="end" style="font-family:'Liberation Sans',sans-serif;font-size:61.3px">-200</text>
<text transform="translate(291.43,739.10) scale(1,1.035)" text-anchor="middle" style="font-family:'Liberation Sans',sans-serif;font-size:61.3px">-500</text>
<text transform="translate(484.10,739.10) scale(1,1.035)" text-anchor="middle" style="font-family:'Liberation Sans',sans-serif;font-size:61.3px">-400</text>
<text transform="translate(676.77,739.10) scale(1,1.035)" text-anchor="middle" style="font-family:'Liberation Sans',sans-serif;font-size:61.3px">-300</text>
<text transform="translate(869.43,739.10) scale(1,1.035)" text-anchor="middle" style="font-family:'Liberation Sans',sans-serif;font-size:61.3px">-200</text>
<text transform="translate(1062.10,739.10) scale(1,1.035)" text-anchor="middle" style="font-family:'Liberation Sans',sans-serif;font-size:61.3px">-100</text>
<text transform="translate(1254.77,739.10) scale(1,1.035)" text-anchor="middle" style="font-family:'Liberation Sans',sans-serif;font-size:61.3px">0</text>
<text transform="translate(1357.50,316.10) scale(1,1.035)" style="font-family:'Liberation Sans',sans-serif;font-size:61.3px">4</text>
<text transform="translate(1357.50,424.70) scale(1,1.035)" style="font-family:'Liberation Sans',sans-serif;font-size:61.3px">2</text>
<text transform="translate(1357.50,533.30) scale(1,1.035)" style="font-family:'Liberation Sans',sans-serif;font-size:61.3px">0</text>
<text transform="translate(1357.50,641.90) scale(1,1.035)" style="font-family:'Liberation Sans',sans-serif;font-size:61.3px">-2</text>
<text transform="translate(674.00,808.40) scale(1,1.016)" style="font-family:'Liberation Serif',serif;font-size:61.3px">Time(ns)</text>
<text transform="translate(65.80,416.60) rotate(-90)" style="font-family:'Liberation Serif',serif;font-size:62.7px">Voltage(V)</text>
<text transform="translate(1481.50,577.50) rotate(-90) scale(0.975,1)" style="font-family:'Liberation Serif',serif;font-size:63.2px">Current(A)</text>
</svg>
</body></html>
